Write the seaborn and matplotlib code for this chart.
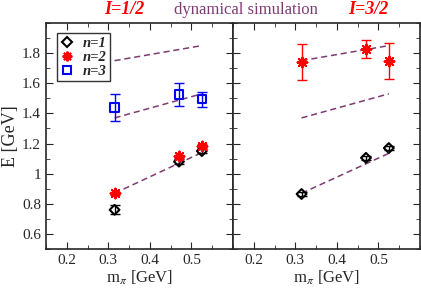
import matplotlib
matplotlib.use("Agg")
import matplotlib.pyplot as plt
import seaborn as sns
import pandas as pd
from matplotlib.ticker import MultipleLocator
from matplotlib.lines import Line2D

# data
mpi = [0.315, 0.47, 0.525]
# I=1/2 panel
half_n1 = [0.76, 1.08, 1.15]
half_n1_err = [0.03, 0.015, 0.015]
half_n2 = [0.87, 1.115, 1.185]
half_n2_err = [0.01, 0.012, 0.012]
half_n3 = [1.44, 1.525, 1.495]
half_n3_err = [0.09, 0.075, 0.05]
# I=3/2 panel
three_n1 = [0.865, 1.105, 1.17]
three_n1_err = [0.012, 0.012, 0.012]
three_n2 = [1.74, 1.83, 1.75]
three_n2_err = [0.12, 0.06, 0.12]
# dashed curves (dynamical simulation)
dyn_x = [0.315, 0.525]
half_dyn = [[0.87, 1.14], [1.37, 1.53], [1.75, 1.85]]
three_dyn = [[0.87, 1.135], [1.37, 1.53], [1.75, 1.85]]

sns.set_style("ticks")
plt.rcParams['font.family'] = ['Liberation Serif', 'DejaVu Serif']
plt.rcParams['mathtext.fontset'] = 'stix'

dash_col = '#7e3a72'
star = (8, 2, 0)
fig, axes = plt.subplots(1, 2, sharey=True, figsize=(4.21, 2.89), dpi=100)
fig.subplots_adjust(left=46/421, right=420/421, top=1-23/289, bottom=1-249/289, wspace=0)

series = {
    0: [(half_n1, half_n1_err, 'D', 'black', 'none', 5, 'n=1'),
        (half_n2, half_n2_err, star, 'red', 'red', 7, 'n=2'),
        (half_n3, half_n3_err, 's', 'blue', 'none', 6, 'n=3')],
    1: [(three_n1, three_n1_err, 'D', 'black', 'none', 5, 'n=1'),
        (three_n2, three_n2_err, star, 'red', 'red', 7, 'n=2')],
}
dyn = {0: half_dyn, 1: three_dyn}

for i, ax in enumerate(axes):
    for yy in dyn[i]:
        df = pd.DataFrame({'x': dyn_x, 'y': yy})
        sns.lineplot(data=df, x='x', y='y', ax=ax, color=dash_col, lw=1.1,
                     linestyle=(0, (4, 2.5)), legend=False)
    for vals, err, m, c, fc, ms, lab in series[i]:
        ax.errorbar(mpi, vals, yerr=err, fmt='none', ecolor=c, elinewidth=1,
                    capsize=3.5, zorder=4)
        sns.scatterplot(x=mpi, y=vals, ax=ax, marker=m, s=ms**2, facecolor=fc,
                        edgecolor=c, color=c, linewidth=1.5, zorder=5, legend=False)
    ax.set_xlim(0.15, 0.6)
    ax.set_ylim(0.5, 2.0)
    ax.xaxis.set_major_locator(MultipleLocator(0.1))
    ax.xaxis.set_minor_locator(MultipleLocator(0.05))
    ax.yaxis.set_major_locator(MultipleLocator(0.2))
    ax.yaxis.set_minor_locator(MultipleLocator(0.1))
    ax.tick_params(which='both', direction='in', top=True, right=True, labelsize=11)
    ax.tick_params(which='major', length=5)
    ax.tick_params(which='minor', length=3)
    ax.set_xticks([0.2, 0.3, 0.4, 0.5])
    ax.set_xlabel(r'm$_\pi$ [GeV]', fontsize=12, labelpad=1)
    ax.set_ylabel('')
    for s in ax.spines.values():
        s.set_linewidth(1.2)

axes[0].set_yticks([0.6, 0.8, 1.0, 1.2, 1.4, 1.6, 1.8])
axes[0].set_yticklabels(['0.6', '0.8', '1', '1.2', '1.4', '1.6', '1.8'])
axes[1].tick_params(labelleft=False)
axes[0].set_ylabel('E [GeV]', fontsize=13, labelpad=2)

handles = [Line2D([], [], ls='none', marker=m, ms=ms, mfc=fc, mec=c, mew=1.5, label=lab)
           for _, _, m, c, fc, ms, lab in series[0]]
leg = axes[0].legend(handles=handles, loc='upper left', bbox_to_anchor=(0.059, 0.956),
                     borderaxespad=0, frameon=True, fancybox=False, edgecolor='black',
                     handlelength=0.8, handletextpad=0.7, borderpad=0.25,
                     labelspacing=0.05,
                     prop={'style': 'italic', 'weight': 'bold', 'size': 10.5})
leg.get_frame().set_linewidth(1.0)

fig.text(124/421, 1-10/289, 'I=1/2', color='red', fontsize=13, fontweight='bold',
         style='italic', ha='center', va='center')
fig.text(368/421, 1-10/289, 'I=3/2', color='red', fontsize=13, fontweight='bold',
         style='italic', ha='center', va='center')
fig.text(246/421, 1-10/289, 'dynamical simulation', color=dash_col, fontsize=12,
         ha='center', va='center')

fig.savefig('out.png', dpi=100)
